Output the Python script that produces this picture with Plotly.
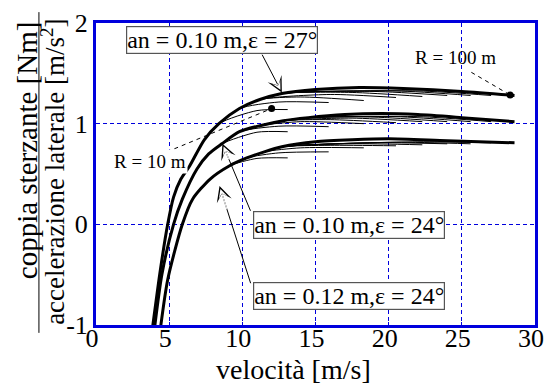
import plotly.graph_objects as go

# Envelope (largest radius) of each family: speed [m/s] vs steering torque / lateral acceleration
g1_v = [3.75, 4.4, 4.9, 5.3, 5.8, 6.4, 7.4, 8.4, 9.8, 11.2, 12.7, 15.0, 18.0, 21.0, 25.0, 28.6]
g1_y = [-1.15, -0.45, 0.0, 0.27, 0.45, 0.58, 0.84, 1.0, 1.15, 1.24, 1.30, 1.34, 1.36, 1.35, 1.32, 1.28]

g2_v = [3.9, 4.5, 5.3, 5.9, 6.9, 7.7, 8.6, 9.8, 11.2, 12.8, 14.5, 17.0, 19.5, 22.0, 25.0, 28.6]
g2_y = [-1.15, -0.5, 0.0, 0.25, 0.55, 0.70, 0.80, 0.92, 0.98, 1.03, 1.06, 1.09, 1.10, 1.09, 1.06, 1.02]

g3_v = [4.3, 4.9, 5.9, 6.6, 7.8, 9.1, 10.3, 11.5, 12.7, 15.0, 17.5, 20.0, 24.0, 28.6]
g3_y = [-1.15, -0.55, 0.0, 0.25, 0.45, 0.58, 0.66, 0.72, 0.77, 0.82, 0.84, 0.85, 0.83, 0.81]

# Smaller radii: each curve leaves the bundle, runs through a mid point and stops at its max speed
end_v = [13.1, 15.9, 18.3, 20.5, 22.3, 24.0, 25.6, 27.0]
mid_v = [11.0, 12.5, 14.0, 16.0, 17.5, 19.0, 20.5, 22.0]

g1_mid = [1.13, 1.215, 1.265, 1.29, 1.31, 1.32, 1.325, 1.325]
g1_end = [1.14, 1.21, 1.23, 1.26, 1.27, 1.28, 1.28, 1.28]

g2_mid = [0.915, 0.975, 1.02, 1.04, 1.055, 1.065, 1.07, 1.07]
g2_end = [0.92, 0.97, 1.00, 1.01, 1.02, 1.02, 1.02, 1.02]

g3_mid = [0.655, 0.71, 0.76, 0.785, 0.80, 0.81, 0.815, 0.82]
g3_end = [0.66, 0.72, 0.76, 0.78, 0.79, 0.80, 0.80, 0.81]

# Marked points for R = 10 m and R = 100 m
dot_v = [12.0, 28.3]
dot_y = [1.15, 1.285]
dot_text = ["R = 10 m", "R = 100 m"]

BLUE = "#0000dd"
FONT = "Liberation Serif"

fig = go.Figure()


def add_curve(v, y, width):
    fig.add_trace(go.Scatter(
        x=v, y=y, mode="lines",
        line=dict(color="black", width=width, shape="spline", smoothing=0.7),
        hoverinfo="skip", showlegend=False))


families = [
    (g1_v, g1_y, g1_mid, g1_end),
    (g2_v, g2_y, g2_mid, g2_end),
    (g3_v, g3_y, g3_mid, g3_end),
]
for ev, ey, mids, ends in families:
    for mv, my, ve, ye in zip(mid_v, mids, end_v, ends):
        head = [(a, b) for a, b in zip(ev, ey) if a < mv - 1.0 and b < my]
        pts = head + [(mv, my), (ve, ye)]
        add_curve([p[0] for p in pts], [p[1] for p in pts], 1)
    add_curve(ev, ey, 3)

fig.add_trace(go.Scatter(
    x=dot_v, y=dot_y, mode="markers",
    marker=dict(color="black", size=7),
    hoverinfo="skip", showlegend=False))

# Dashed leaders from the radius labels to the marked points
leader_start = [(4.85, 0.72), (25.65, 1.51)]
for (sx, sy), dx, dy in zip(leader_start, dot_v, dot_y):
    fig.add_shape(type="line", x0=sx, y0=sy, x1=dx, y1=dy,
                  line=dict(color="black", width=1, dash="4px,4px"))

annotations = []
label_pos = [(3.7, 0.62), (24.6, 1.66)]
for (lx, ly), t in zip(label_pos, dot_text):
    annotations.append(dict(x=lx, y=ly, xref="x", yref="y", text=t, showarrow=False,
                            xanchor="center", yanchor="middle",
                            bgcolor="white" if t == "R = 10 m" else "rgba(0,0,0,0)",
                            font=dict(family=FONT, size=19, color="black")))

# Family labels (boxes) and their arrows
boxes = [
    ("an = 0.10 m,ε = 27°", 8.6, 1.83, (11.3, 1.70), (12.7, 1.31)),
    ("an = 0.10 m,ε = 24°", 17.3, -0.01, (10.6, 0.12), (8.64, 0.80)),
    ("an = 0.12 m,ε = 24°", 17.3, -0.71, (10.6, -0.60), (8.44, 0.38)),
]
for text, bx, by, tail, tip in boxes:
    annotations.append(dict(x=bx, y=by, xref="x", yref="y", text=text, showarrow=False,
                            xanchor="center", yanchor="middle",
                            bgcolor="white", bordercolor="#555", borderwidth=1.2, borderpad=0,
                            font=dict(family=FONT, size=24, color="black")))
    annotations.append(dict(x=tip[0], y=tip[1], xref="x", yref="y", text="",
                            ax=tail[0], ay=tail[1], axref="x", ayref="y",
                            showarrow=True, arrowhead=3, arrowsize=2.6, arrowwidth=1,
                            arrowcolor="black"))
    # white inner head gives the open arrow look
    mx = tip[0] + 0.25 * (tail[0] - tip[0])
    my = tip[1] + 0.25 * (tail[1] - tip[1])
    annotations.append(dict(x=tip[0], y=tip[1], xref="x", yref="y", text="",
                            ax=mx, ay=my, axref="x", ayref="y",
                            showarrow=True, arrowhead=3, arrowsize=1.5, arrowwidth=1,
                            standoff=3, arrowcolor="white"))

# Axis titles: x title and the fraction on the y side
annotations.append(dict(x=0.451, y=-0.149, xref="paper", yref="paper",
                        xanchor="center", yanchor="middle",
                        text="velocità [m/s]", showarrow=False,
                        font=dict(family=FONT, size=28, color="black")))
annotations.append(dict(x=-0.157, y=0.579, xref="paper", yref="paper", textangle=-90,
                        xanchor="center", yanchor="middle",
                        text="coppia sterzante [Nm]", showarrow=False,
                        font=dict(family=FONT, size=29, color="black")))
annotations.append(dict(x=-0.098, y=0.507, xref="paper", yref="paper", textangle=-90,
                        xanchor="center", yanchor="middle",
                        text="accelerazione laterale [m/s<sup>2</sup>]", showarrow=False,
                        font=dict(family=FONT, size=27, color="black")))
fig.add_shape(type="line", xref="paper", yref="paper",
              x0=-0.130, x1=-0.130, y0=-0.026, y1=1.036,
              line=dict(color="black", width=1))

x_ticks = [0, 5, 10, 15, 20, 25, 30]
y_ticks = [-1, 0, 1, 2]
y_tick_text = ["-1", "0", "1", "2"]

axis_common = dict(showgrid=True, gridcolor=BLUE, griddash="4px,3px", gridwidth=1,
                   zeroline=False, showline=True, mirror=True, linecolor=BLUE,
                   linewidth=3, ticks="inside", ticklen=3, tickcolor=BLUE,
                   automargin=False, ticklabeloverflow="allow",
                   tickfont=dict(family=FONT, size=26, color="black"))

fig.update_layout(
    width=545, height=385,
    margin=dict(l=96, r=10, t=23, b=60),
    paper_bgcolor="white", plot_bgcolor="white",
    annotations=annotations,
    font=dict(family=FONT, size=26, color="black"),
    xaxis=dict(range=[0, 30], tickvals=x_ticks, ticklabelstandoff=-12,
               ticklabelshift=-4, **axis_common),
    yaxis=dict(range=[-1, 2], tickvals=y_ticks, ticktext=y_tick_text, **axis_common),
)

fig.write_html("out.html")
